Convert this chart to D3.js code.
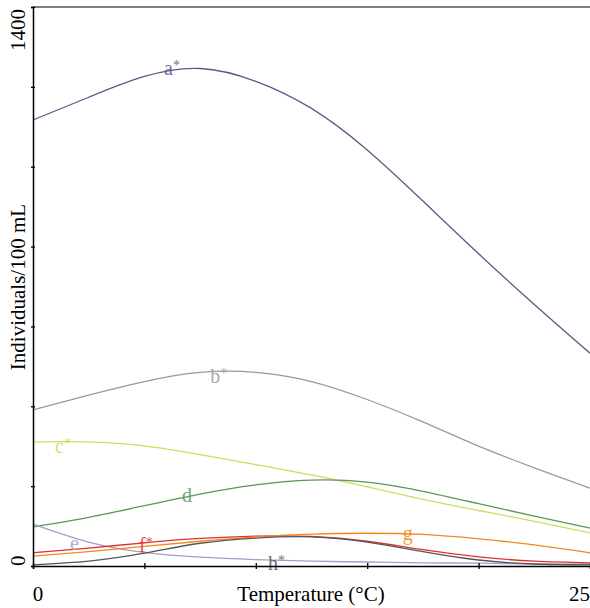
<!DOCTYPE html>
<html>
<head>
<meta charset="utf-8">
<script src="https://cdn.jsdelivr.net/npm/d3@7"></script>
<style>
  body { margin: 0; background: #fff; }
  svg { font-family: "Liberation Serif", "DejaVu Serif", serif; }
</style>
</head>
<body>
<svg width="590" height="608"></svg>
<script>
// temperatures sampled along the x axis
const temps = [0, 2.5, 5, 7.5, 10, 12.5, 15, 17.5, 20, 22.5, 25];

// individuals/100 mL, one array per taxon
const a = [1117, 1174, 1226, 1246, 1214, 1146, 1042, 914, 782, 655, 533];
const b = [391, 428, 462, 485, 485, 462, 417, 361, 300, 246, 195];
const c = [311, 311, 301, 279, 254, 228, 198, 167, 139, 112, 83];
const d = [98, 122, 151, 180, 203, 215, 210, 187, 156, 125, 95];
const e = [105, 60, 34, 22, 16, 12, 10, 8, 7, 5, 5];
const f = [33, 45, 58, 69, 75, 74, 62, 41, 23, 12, 8];
const g = [25, 36, 49, 62, 73, 80, 82, 79, 68, 53, 33];
const h = [3, 12, 32, 57, 70, 73, 60, 36, 15, 5, 3];

const seriesNames = ['a', 'b', 'c', 'd', 'e', 'f', 'g', 'h'];
const seriesStar = [true, true, true, false, false, true, false, true];
const seriesValues = [a, b, c, d, e, f, g, h];
const seriesColors = ['#5b5a86', '#9a9a9a', '#d2da5c', '#5e9658', '#a99cc9', '#e0302e', '#f08a1c', '#555558'];
// where each label sits: [temperature, value]
const labelPos = [[5.88, 1230], [7.95, 458], [0.99, 284], [6.69, 160], [1.66, 40], [4.76, 36], [16.6, 65], [10.55, -10]];

const xTicks = [0, 5, 10, 15, 20, 25];
const yTicks = [0, 200, 400, 600, 800, 1000, 1200, 1400];

const svg = d3.select('svg');
const mLeft = 33, mRight = 590, mTop = 7, mBottom = 566;

const x = d3.scaleLinear().domain([0, 25]).range([mLeft, mRight]);
const y = d3.scaleLinear().domain([0, 1400]).range([mBottom, mTop]);

// frame top
svg.append('line')
  .attr('x1', mLeft).attr('x2', mRight)
  .attr('y1', mTop).attr('y2', mTop)
  .attr('stroke', '#000').attr('stroke-width', 1.2);

const line = d3.line()
  .x((v, i) => x(temps[i]))
  .y(v => y(v))
  .curve(d3.curveNatural);

svg.selectAll('.curve')
  .data(seriesValues)
  .enter()
  .append('path')
  .attr('class', 'curve')
  .attr('d', line)
  .attr('fill', 'none')
  .attr('stroke', (v, i) => seriesColors[i])
  .attr('stroke-width', 1.3);

const labs = svg.selectAll('.lab')
  .data(seriesNames)
  .enter()
  .append('text')
  .attr('class', 'lab')
  .attr('x', (n, i) => x(labelPos[i][0]))
  .attr('y', (n, i) => y(labelPos[i][1]))
  .attr('font-size', 20)
  .attr('fill', (n, i) => seriesColors[i])
  .attr('opacity', 0.85)
  .text(n => n);

labs.filter((n, i) => seriesStar[i])
  .append('tspan')
  .attr('font-size', 14)
  .attr('dy', -5)
  .text('*');

// axes
const xAxis = svg.append('g').attr('transform', `translate(0,${mBottom})`)
  .call(d3.axisBottom(x).tickValues(xTicks).tickSize(3).tickFormat(''));
xAxis.select('.domain').attr('stroke-width', 1.5);
xAxis.selectAll('.tick line').attr('y1', -3).attr('stroke-width', 1.3);

const yAxis = svg.append('g').attr('transform', `translate(${mLeft},0)`)
  .call(d3.axisLeft(y).tickValues(yTicks).tickSize(2).tickFormat(''));
yAxis.select('.domain').attr('stroke-width', 1.5);
yAxis.selectAll('.tick line').attr('x1', -2).attr('x2', 2).attr('stroke-width', 1.3);

svg.append('text')
  .attr('x', mLeft + 5).attr('y', 601)
  .attr('font-size', 21).attr('text-anchor', 'middle')
  .text(xTicks[0]);
svg.append('text')
  .attr('x', mRight).attr('y', 601)
  .attr('font-size', 21).attr('text-anchor', 'end')
  .text(xTicks[xTicks.length - 1]);
svg.append('text')
  .attr('x', 311).attr('y', 601)
  .attr('font-size', 21).attr('text-anchor', 'middle')
  .text('Temperature (°C)');

svg.append('text')
  .attr('transform', `translate(25,${mBottom}) rotate(-90)`)
  .attr('font-size', 21).attr('text-anchor', 'start')
  .text(yTicks[0]);
svg.append('text')
  .attr('transform', `translate(25,${mTop + 2}) rotate(-90)`)
  .attr('font-size', 21).attr('text-anchor', 'end')
  .text(yTicks[yTicks.length - 1]);
svg.append('text')
  .attr('transform', `translate(25,287) rotate(-90)`)
  .attr('font-size', 21).attr('text-anchor', 'middle')
  .text('Individuals/100 mL');
</script>
</body>
</html>
